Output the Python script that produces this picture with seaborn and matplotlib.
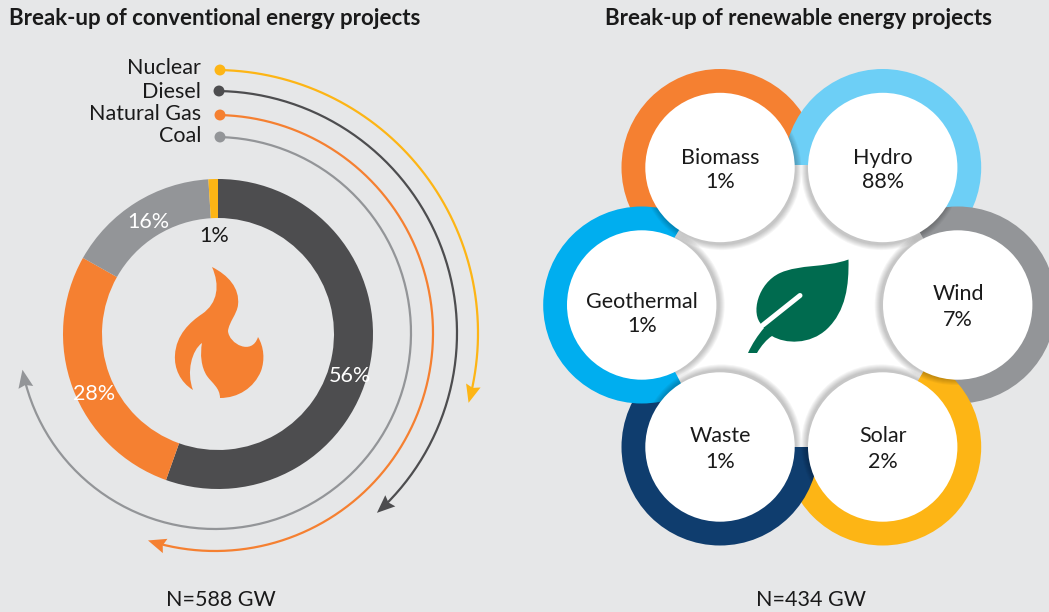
import numpy as np
import pandas as pd
import matplotlib.pyplot as plt
import seaborn as sns
from matplotlib.patches import Circle, Polygon, PathPatch
from matplotlib.path import Path

## dados

conv_labels = ['Diesel', 'Natural Gas', 'Coal', 'Nuclear']
conv_values = [56, 28, 16, 1]
conv_colors = ['#4D4D4F', '#F58031', '#939598', '#FDB515']

legend_labels = ['Nuclear', 'Diesel', 'Natural Gas', 'Coal']
legend_colors = ['#FDB515', '#4D4D4F', '#F58031', '#939598']

ren_labels = ['Biomass', 'Hydro', 'Wind', 'Solar', 'Waste', 'Geothermal']
ren_values = [1, 88, 7, 2, 1, 1]
ren_colors = ['#F58031', '#6DCFF6', '#939598', '#FDB515', '#0F3D6E', '#00AEEF']

title_conv = 'Break-up of conventional energy projects'
title_ren = 'Break-up of renewable energy projects'
total_conv = 'N=588 GW'
total_ren = 'N=434 GW'

BG = '#E6E7E8'
INK = '#1A1A1A'
FONT = 'Lato'
FS = 15.5
DY = 1.5  # ajuste vertical do texto

sns.set_theme(style='white', rc={'figure.facecolor': BG, 'axes.facecolor': BG})
plt.rcParams['font.family'] = [FONT, 'DejaVu Sans']

fig = plt.figure(figsize=(10.49, 6.12), dpi=100)
ax = fig.add_axes([0, 0, 1, 1])

## %% donut da esquerda (eixo y invertido, entao counterclock fica horario)

ax.pie(
    conv_values,
    colors=sns.color_palette(conv_colors),
    center=(218, 334),
    radius=155,
    startangle=-90,
    counterclock=True,
    wedgeprops={'width': 39, 'linewidth': 0},
)

ax.set_xlim(0, 1049)
ax.set_ylim(612, 0)
ax.set_aspect('equal')
ax.axis('off')

pos_pct = [(350, 375), (94, 392), (148, 221), (214, 235)]
cor_pct = ['white', 'white', 'white', INK]
for val, (x, y), c in zip(conv_values, pos_pct, cor_pct):
    ax.text(x, y + DY, f'{val}%', color=c, fontsize=FS, ha='center', va='center', zorder=5)

## chama no meio do donut
flame = [
    (Path.MOVETO, (212, 267)),
    (Path.CURVE4, (228, 275)), (Path.CURVE4, (240, 288)), (Path.CURVE4, (238, 305)),
    (Path.CURVE4, (237, 314)), (Path.CURVE4, (229, 322)), (Path.CURVE4, (228, 331)),
    (Path.CURVE4, (229, 344)), (Path.CURVE4, (252, 356)), (Path.CURVE4, (258, 337)),
    (Path.CURVE4, (264, 347)), (Path.CURVE4, (265, 360)), (Path.CURVE4, (261, 371)),
    (Path.CURVE4, (254, 388)), (Path.CURVE4, (238, 398)), (Path.CURVE4, (220, 398)),
    (Path.CURVE4, (220, 388)), (Path.CURVE4, (212, 383)), (Path.CURVE4, (207, 376)),
    (Path.CURVE4, (201, 367)), (Path.CURVE4, (200, 354)), (Path.CURVE4, (202, 343)),
    (Path.CURVE4, (192, 350)), (Path.CURVE4, (186, 372)), (Path.CURVE4, (193, 390)),
    (Path.CURVE4, (180, 382)), (Path.CURVE4, (174, 368)), (Path.CURVE4, (175, 355)),
    (Path.CURVE4, (176, 335)), (Path.CURVE4, (190, 322)), (Path.CURVE4, (202, 314)),
    (Path.CURVE4, (218, 303)), (Path.CURVE4, (220, 285)), (Path.CURVE4, (212, 267)),
    (Path.CLOSEPOLY, (212, 267)),
]
codes, verts = zip(*flame)
ax.add_patch(PathPatch(Path(verts, codes), facecolor='#F58031', edgecolor='none', zorder=4))

## %% setas em volta do donut

centro_arco = (215, 333)
raios = [263, 242, 218, 196]
fim_arco = [105.4, 138, 197.9, 259.2]
inicio_y = [70, 91, 115, 137]
inicio_x = [220, 219, 220, 220]


def ponta(tx, ty, th, cor):
    # seta com entalhe, apontando no sentido horario
    t = np.array([np.cos(th), np.sin(th)])
    n = np.array([-t[1], t[0]])
    tip = np.array([tx, ty])
    ax.add_patch(Polygon(
        [tip, tip - 18 * t + 7.5 * n, tip - 15.5 * t, tip - 18 * t - 7.5 * n],
        closed=True, facecolor=cor, edgecolor='none', zorder=3,
    ))


for r, fim, x0, cor in zip(raios, fim_arco, inicio_x, legend_colors):
    th0 = np.arcsin((x0 - centro_arco[0]) / r)
    th = np.linspace(th0, np.radians(fim) - 15 / r, 200)
    ax.plot(centro_arco[0] + r * np.sin(th), centro_arco[1] - r * np.cos(th),
            color=cor, lw=1.6, zorder=3, solid_capstyle='butt')
    fim_rad = np.radians(fim)
    ponta(centro_arco[0] + r * np.sin(fim_rad), centro_arco[1] - r * np.cos(fim_rad), fim_rad, cor)

df_leg = pd.DataFrame({'x': inicio_x, 'y': inicio_y, 'fonte': legend_labels})
sns.scatterplot(
    data=df_leg, x='x', y='y', hue='fonte', hue_order=legend_labels,
    palette=legend_colors, s=62, linewidth=0, legend=False, ax=ax, zorder=4,
)
ax.set_xlabel('')
ax.set_ylabel('')

for nome, y in zip(legend_labels, [66, 90, 113, 135]):
    ax.text(201, y + DY, nome, color=INK, fontsize=FS, ha='right', va='center')

## %% flor da direita

cx, cy = 800, 306
centros = [(720, 167.5), (882.7, 167.5), (957.7, 305), (882.7, 447), (720, 447), (641.7, 305)]

for (x, y), cor in zip(centros, ren_colors):
    ax.add_patch(Circle((x, y), 98.5, facecolor=cor, edgecolor='none', zorder=2))


def sombra(x, y, clip, z):
    dx, dy = cx - x, cy - y
    d = np.hypot(dx, dy)
    for k in range(1, 7):
        s = Circle((x + 3 * dx / d, y + 3 * dy / d), 74 + k, facecolor='black',
                   edgecolor='none', alpha=0.04, zorder=z)
        ax.add_patch(s)
        s.set_clip_path(clip)


# o anel de cima recebe a sombra do circulo branco vizinho
recebe = {0: [1, 5], 1: [2], 2: [3], 3: [4], 4: [5], 5: []}
for i, (x, y) in enumerate(centros):
    for j in recebe[i]:
        disco = Circle(centros[j], 98.5, transform=ax.transData)
        sombra(x, y, disco, 2.5)

# miolo branco: os cortes entre os circulos sao retos
miolo = Polygon(
    [(790, 165), (812, 165), (916, 226), (926, 243), (926, 367), (916, 384),
     (812, 447), (790, 447), (684, 389), (672, 366), (670, 245), (684, 222)],
    closed=True, facecolor='white', edgecolor='none', zorder=3,
)
ax.add_patch(miolo)

for (x, y) in centros:
    sombra(x, y, miolo, 3.2)

for (x, y) in centros:
    ax.add_patch(Circle((x, y), 74.7, facecolor='white', edgecolor='none', zorder=4))

pos_nome = [(720, 156), (883, 156), (958, 293), (883, 434), (720, 434), (642, 300)]
pos_val = [(720, 181), (883, 180), (958, 318), (883, 460), (720, 460), (642, 325)]
for nome, val, pn, pv in zip(ren_labels, ren_values, pos_nome, pos_val):
    ax.text(pn[0], pn[1] + DY, nome, color=INK, fontsize=FS, ha='center', va='center', zorder=5)
    ax.text(pv[0], pv[1] + DY, f'{val}%', color=INK, fontsize=FS, ha='center', va='center', zorder=5)

## folha no centro
folha = [
    (Path.MOVETO, (848.5, 259.5)),
    (Path.CURVE4, (825, 268)), (Path.CURVE4, (800, 264)), (Path.CURVE4, (780, 273)),
    (Path.CURVE4, (758, 283)), (Path.CURVE4, (750, 314)), (Path.CURVE4, (762, 325)),
    (Path.LINETO, (764, 328)),
    (Path.CURVE4, (758, 335)), (Path.CURVE4, (752, 344)), (Path.CURVE4, (748, 353)),
    (Path.LINETO, (757, 353)),
    (Path.CURVE4, (761, 346)), (Path.CURVE4, (767, 339)), (Path.CURVE4, (772, 336)),
    (Path.CURVE4, (785, 344)), (Path.CURVE4, (810, 345)), (Path.CURVE4, (827, 329)),
    (Path.CURVE4, (846, 311)), (Path.CURVE4, (849, 285)), (Path.CURVE4, (848.5, 259.5)),
    (Path.CLOSEPOLY, (848.5, 259.5)),
]
codes, verts = zip(*folha)
ax.add_patch(PathPatch(Path(verts, codes), facecolor='#006B4F', edgecolor='none', zorder=4))
ax.plot([763, 800], [325, 295.5], color='white', lw=3.6, solid_capstyle='round', zorder=4.5)

## %% titulos e totais

ax.text(9, 18 + DY / 2, title_conv, color=INK, fontsize=16, fontweight='bold', ha='left', va='center')
ax.text(605, 18 + DY / 2, title_ren, color=INK, fontsize=16, fontweight='bold', ha='left', va='center')
ax.text(221, 598 + DY, total_conv, color=INK, fontsize=FS, ha='center', va='center')
ax.text(811, 598 + DY, total_ren, color=INK, fontsize=FS, ha='center', va='center')

ax.set_xlim(0, 1049)
ax.set_ylim(612, 0)

plt.savefig('out.png', dpi=100, facecolor=BG)
